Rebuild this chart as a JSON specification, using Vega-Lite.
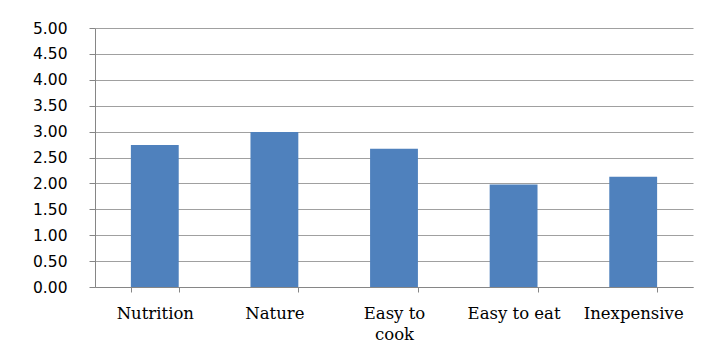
{
  "$schema": "https://vega.github.io/schema/vega-lite/v6.json",
  "width": 598,
  "height": 259,
  "autosize": "none",
  "padding": {"left": 95, "top": 28, "right": 11, "bottom": 72},
  "background": "white",
  "data": {
    "values": [
      {"attribute": "Nutrition", "score": 2.74},
      {"attribute": "Nature", "score": 2.99},
      {"attribute": "Easy to cook", "score": 2.67},
      {"attribute": "Easy to eat", "score": 1.98},
      {"attribute": "Inexpensive", "score": 2.13}
    ]
  },
  "mark": {"type": "bar", "color": "#4F81BD"},
  "encoding": {
    "x": {
      "field": "attribute",
      "type": "nominal",
      "sort": null,
      "scale": {"paddingInner": 0.6, "paddingOuter": 0.3},
      "axis": {
        "title": null,
        "labelAngle": 0,
        "labelFont": "DejaVu Serif",
        "labelFontSize": 16.5,
        "labelColor": "#000000",
        "labelPadding": 13,
        "labelLineHeight": 21,
        "labelBaseline": "top",
        "labelExpr": "datum.label == 'Easy to cook' ? ['Easy to', 'cook'] : datum.label",
        "tickBand": "extent",
        "tickSize": 5,
        "tickColor": "#868686",
        "domainColor": "#868686",
        "grid": false
      }
    },
    "y": {
      "field": "score",
      "type": "quantitative",
      "scale": {"domain": [0, 5], "nice": false},
      "axis": {
        "title": null,
        "values": [0, 0.5, 1, 1.5, 2, 2.5, 3, 3.5, 4, 4.5, 5],
        "format": ".2f",
        "labelFont": "DejaVu Sans",
        "labelFontSize": 15.5,
        "labelColor": "#000000",
        "labelPadding": 22,
        "tickSize": 6,
        "tickColor": "#868686",
        "domainColor": "#868686",
        "gridColor": "#A0A0A0",
        "gridOpacity": 1
      }
    }
  },
  "config": {"view": {"stroke": null}}
}
